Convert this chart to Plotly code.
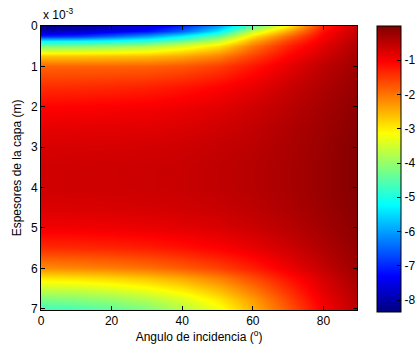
import plotly.graph_objects as go

# Angle of incidence (degrees) – column positions of the grid
angulo = [0, 10, 20, 30, 40, 50, 60, 70, 80, 89.5]

# Layer thickness (m) – row positions of the grid
espesor_mm = [0, 0.125, 0.25, 0.375, 0.5, 0.75, 1.0, 1.5, 2.0, 2.5, 3.0, 3.5,
              4.0, 4.5, 5.0, 5.5, 6.0, 6.25, 6.5, 6.75, 7.0]
espesor = [e * 1e-3 for e in espesor_mm]

# Value at each (thickness, angle) node, one row per thickness
fila_0000 = [-8.35, -8.2, -7.9, -7.6, -7.0, -6.0, -4.4, -3.0, -1.3, -0.6]
fila_0125 = [-7.9, -7.8, -7.5, -7.2, -6.5, -5.4, -3.6, -2.4, -1.15, -0.55]
fila_0250 = [-7.0, -6.9, -6.5, -6.0, -5.3, -4.4, -2.9, -1.9, -1.0, -0.5]
fila_0375 = [-5.2, -5.15, -5.0, -4.8, -4.3, -3.6, -2.4, -1.55, -0.9, -0.44]
fila_0500 = [-4.2, -4.15, -4.0, -3.8, -3.4, -2.9, -2.0, -1.3, -0.8, -0.38]
fila_0750 = [-2.65, -2.64, -2.62, -2.58, -2.4, -2.1, -1.55, -1.05, -0.65, -0.32]
fila_1000 = [-1.85, -1.85, -1.85, -1.83, -1.75, -1.55, -1.2, -0.85, -0.5, -0.26]
fila_1500 = [-1.4, -1.38, -1.35, -1.3, -1.2, -1.05, -0.85, -0.6, -0.38, -0.18]
fila_2000 = [-1.05, -1.03, -1.0, -0.97, -0.9, -0.8, -0.65, -0.48, -0.3, -0.12]
fila_2500 = [-0.85, -0.84, -0.82, -0.8, -0.75, -0.66, -0.55, -0.4, -0.25, -0.08]
fila_3000 = [-0.72, -0.71, -0.7, -0.68, -0.64, -0.57, -0.48, -0.36, -0.22, -0.05]
fila_3500 = [-0.66, -0.65, -0.64, -0.62, -0.59, -0.53, -0.45, -0.34, -0.2, -0.04]
fila_4000 = [-0.66, -0.65, -0.64, -0.62, -0.59, -0.53, -0.45, -0.34, -0.2, -0.04]
fila_4500 = [-0.75, -0.74, -0.72, -0.7, -0.66, -0.6, -0.5, -0.38, -0.23, -0.06]
fila_5000 = [-0.95, -0.94, -0.92, -0.88, -0.82, -0.74, -0.62, -0.47, -0.3, -0.1]
fila_5500 = [-1.4, -1.38, -1.34, -1.28, -1.18, -1.04, -0.86, -0.64, -0.4, -0.16]
fila_6000 = [-2.2, -2.15, -2.08, -1.98, -1.8, -1.58, -1.28, -0.92, -0.56, -0.24]
fila_6250 = [-2.95, -2.9, -2.8, -2.65, -2.42, -2.1, -1.66, -1.18, -0.7, -0.3]
fila_6500 = [-3.6, -3.55, -3.42, -3.22, -2.95, -2.55, -2.0, -1.4, -0.8, -0.38]
fila_6750 = [-4.2, -4.12, -3.98, -3.75, -3.42, -2.95, -2.3, -1.6, -0.9, -0.45]
fila_7000 = [-4.7, -4.6, -4.42, -4.15, -3.75, -3.25, -2.5, -1.75, -1.0, -0.5]

valores = [fila_0000, fila_0125, fila_0250, fila_0375, fila_0500, fila_0750,
           fila_1000, fila_1500, fila_2000, fila_2500, fila_3000, fila_3500,
           fila_4000, fila_4500, fila_5000, fila_5500, fila_6000, fila_6250,
           fila_6500, fila_6750, fila_7000]

# Tick labels
ticks_x = [0, 20, 40, 60, 80]
ticks_y_mm = [0, 1, 2, 3, 4, 5, 6, 7]
ticks_cb = [-1, -2, -3, -4, -5, -6, -7, -8]

# MATLAB "jet" colormap
jet = [
    [0.0, "rgb(0,0,128)"],
    [0.125, "rgb(0,0,255)"],
    [0.375, "rgb(0,255,255)"],
    [0.625, "rgb(255,255,0)"],
    [0.875, "rgb(255,0,0)"],
    [1.0, "rgb(128,0,0)"],
]

FONT = "Liberation Sans, Arial, Helvetica, sans-serif"

fig = go.Figure(
    go.Heatmap(
        x=angulo,
        y=espesor,
        z=valores,
        colorscale=jet,
        zmin=-8.35,
        zmax=0.0,
        zsmooth="best",
        colorbar=dict(
            x=1.063,
            xanchor="left",
            y=1.0,
            yanchor="top",
            len=286,
            lenmode="pixels",
            thickness=24,
            thicknessmode="pixels",
            outlinecolor="black",
            outlinewidth=1,
            tickvals=ticks_cb,
            ticktext=[str(t) for t in ticks_cb],
            ticks="inside",
            ticklen=4,
            tickcolor="black",
            tickfont=dict(family=FONT, size=12, color="black"),
            xpad=0,
            ypad=0,
        ),
    )
)

fig.update_layout(
    width=416,
    height=354,
    margin=dict(l=41, r=59, t=26, b=44, autoexpand=False),
    paper_bgcolor="white",
    plot_bgcolor="white",
    font=dict(family=FONT, size=12, color="black"),
    xaxis=dict(
        range=[0, 89.5],
        tickvals=ticks_x,
        ticks="inside",
        ticklen=4,
        tickcolor="black",
        showline=True,
        linecolor="black",
        linewidth=1,
        mirror="ticks",
        showgrid=False,
        zeroline=False,
        tickfont=dict(family=FONT, size=12),
        title=dict(text="Angulo de incidencia (<sup>o</sup>)",
                   font=dict(family=FONT, size=12), standoff=4),
    ),
    yaxis=dict(
        range=[7.03e-3, 0],
        tickvals=[t * 1e-3 for t in ticks_y_mm],
        ticktext=[str(t) for t in ticks_y_mm],
        ticks="inside",
        ticklen=4,
        tickcolor="black",
        showline=True,
        linecolor="black",
        linewidth=1,
        mirror="ticks",
        showgrid=False,
        zeroline=False,
        tickfont=dict(family=FONT, size=12),
        title=dict(text="Espesores de la capa (m)",
                   font=dict(family=FONT, size=12), standoff=6),
    ),
    annotations=[
        dict(
            text="x 10<sup>-3</sup>",
            xref="paper",
            yref="paper",
            x=0.0,
            y=1.0,
            xanchor="left",
            yanchor="bottom",
            yshift=2,
            showarrow=False,
            font=dict(family=FONT, size=12, color="black"),
        )
    ],
)

fig.write_html("out.html")
